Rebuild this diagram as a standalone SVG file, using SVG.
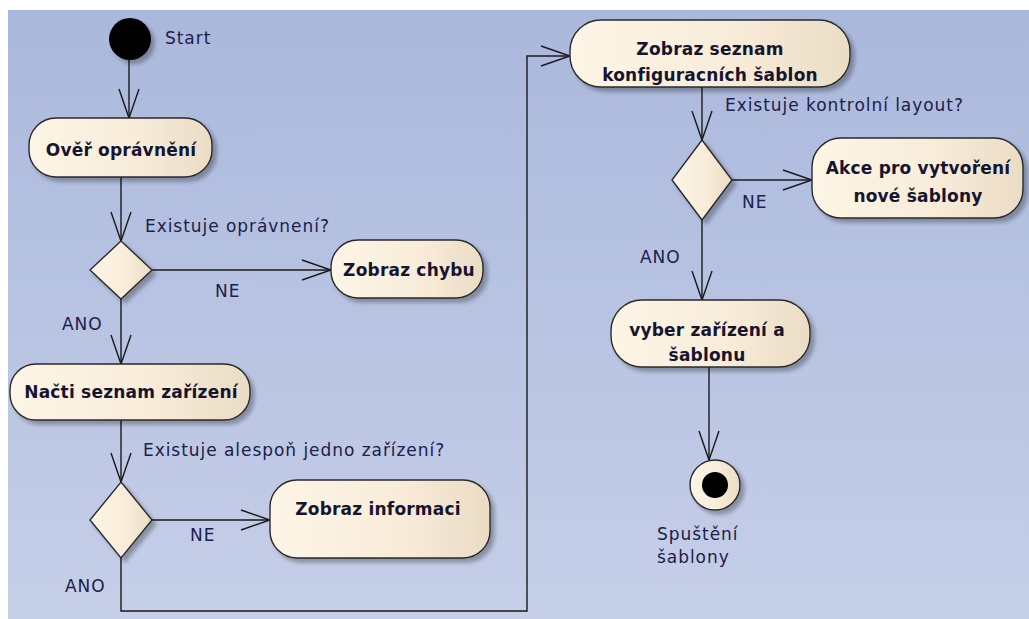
<svg xmlns="http://www.w3.org/2000/svg" width="1029" height="619" viewBox="0 0 1029 619">
  <defs>
    <linearGradient id="bg" x1="0" y1="0" x2="0" y2="1">
      <stop offset="0" stop-color="#aab8dc"/>
      <stop offset="1" stop-color="#c6cfe8"/>
    </linearGradient>
    <linearGradient id="nodeFill" x1="0" y1="0" x2="1" y2="0">
      <stop offset="0" stop-color="#fdf5e6"/>
      <stop offset="0.6" stop-color="#f8ecd9"/>
      <stop offset="1" stop-color="#eadcc4"/>
    </linearGradient>
    <filter id="shadow" x="-10%" y="-10%" width="130%" height="140%">
      <feGaussianBlur in="SourceAlpha" stdDeviation="2"/>
      <feOffset dx="4" dy="4" result="off"/>
      <feComponentTransfer><feFuncA type="linear" slope="0.3"/></feComponentTransfer>
      <feMerge><feMergeNode/><feMergeNode in="SourceGraphic"/></feMerge>
    </filter>
    <marker id="arrow" markerUnits="userSpaceOnUse" markerWidth="34" markerHeight="26" viewBox="-31 -13 34 26" refX="0" refY="0" orient="auto">
      <path d="M-29,-10 L0,0 L-29,10" fill="none" stroke="#1a1a1a" stroke-width="1.4"/>
    </marker>
  </defs>
  <style>
    .node { fill: url(#nodeFill); stroke: #2a2a2a; stroke-width: 1.4; filter: url(#shadow); }
    .label { font-family: "DejaVu Sans", sans-serif; font-weight: bold; font-size: 17px; letter-spacing: 0.2px; fill: #151530; text-anchor: middle; }
    .note { font-family: "DejaVu Sans", sans-serif; font-size: 17px; letter-spacing: 0.95px; fill: #20204a; }
    .edge { fill: none; stroke: #1a1a1a; stroke-width: 1.4; marker-end: url(#arrow); }
  </style>

  <rect x="0" y="0" width="1029" height="619" fill="#ffffff"/>
  <rect x="8" y="10" width="1021" height="609" fill="url(#bg)"/>

  <g id="connectors">
    <path class="edge" d="M129,60 V118"/>
    <path class="edge" d="M121,177 V241"/>
    <path class="edge" d="M152,270 H331"/>
    <path class="edge" d="M121,299 V364"/>
    <path class="edge" d="M121,420 V482"/>
    <path class="edge" d="M152,520 H270"/>
    <path class="edge" d="M121,558 V611 H527 V56 H570"/>
    <path class="edge" d="M702,87 V140"/>
    <path class="edge" d="M732,180 H812"/>
    <path class="edge" d="M702,220 V300"/>
    <path class="edge" d="M709,367 V460"/>
  </g>

  <g id="edge-labels">
    <text class="note" x="145" y="232">Existuje oprávnení?</text>
    <text class="note" x="215" y="297">NE</text>
    <text class="note" x="62" y="330">ANO</text>
    <text class="note" x="143" y="456">Existuje alespoň jedno zařízení?</text>
    <text class="note" x="190" y="541">NE</text>
    <text class="note" x="65" y="592">ANO</text>
    <text class="note" x="725" y="111">Existuje kontrolní layout?</text>
    <text class="note" x="742" y="208">NE</text>
    <text class="note" x="640" y="263">ANO</text>
  </g>

  <g id="start">
    <circle cx="130" cy="39" r="21" fill="#000000" filter="url(#shadow)"/>
    <text class="note" x="165" y="44">Start</text>
  </g>

  <g id="over-opravneni">
    <rect class="node" x="29" y="118" width="183" height="59" rx="27"/>
    <text class="label" x="121" y="156">Ověř oprávnění</text>
  </g>

  <g id="decision-opravneni">
    <polygon class="node" points="121,241 152,270 121,299 90,270"/>
  </g>

  <g id="zobraz-chybu">
    <rect class="node" x="331" y="240" width="152" height="58" rx="27"/>
    <text class="label" x="409" y="276">Zobraz chybu</text>
  </g>

  <g id="nacti-seznam">
    <rect class="node" x="10" y="364" width="240" height="56" rx="26"/>
    <text class="label" x="131" y="398">Načti seznam zařízení</text>
  </g>

  <g id="decision-zarizeni">
    <polygon class="node" points="121,482 152,520 121,558 90,520"/>
  </g>

  <g id="zobraz-informaci">
    <rect class="node" x="270" y="480" width="220" height="78" rx="27"/>
    <text class="label" x="378" y="515">Zobraz informaci</text>
  </g>

  <g id="zobraz-seznam-sablon">
    <rect class="node" x="570" y="20" width="280" height="67" rx="31"/>
    <text class="label" x="710" y="55">Zobraz seznam</text>
    <text class="label" x="710" y="81">konfiguracních šablon</text>
  </g>

  <g id="decision-layout">
    <polygon class="node" points="702,140 732,180 702,220 672,180"/>
  </g>

  <g id="akce-nova-sablona">
    <rect class="node" x="812" y="138" width="211" height="80" rx="29"/>
    <text class="label" x="918" y="174">Akce pro vytvoření</text>
    <text class="label" x="918" y="202">nové šablony</text>
  </g>

  <g id="vyber-zarizeni">
    <rect class="node" x="611" y="300" width="199" height="67" rx="31"/>
    <text class="label" x="707" y="336">vyber zařízení a</text>
    <text class="label" x="707" y="361">šablonu</text>
  </g>

  <g id="spusteni-sablony">
    <circle class="node" cx="715" cy="485" r="25"/>
    <circle cx="715" cy="485" r="13" fill="#000000"/>
    <text class="note" x="657" y="540">Spuštění</text>
    <text class="note" x="657" y="563">šablony</text>
  </g>
</svg>
